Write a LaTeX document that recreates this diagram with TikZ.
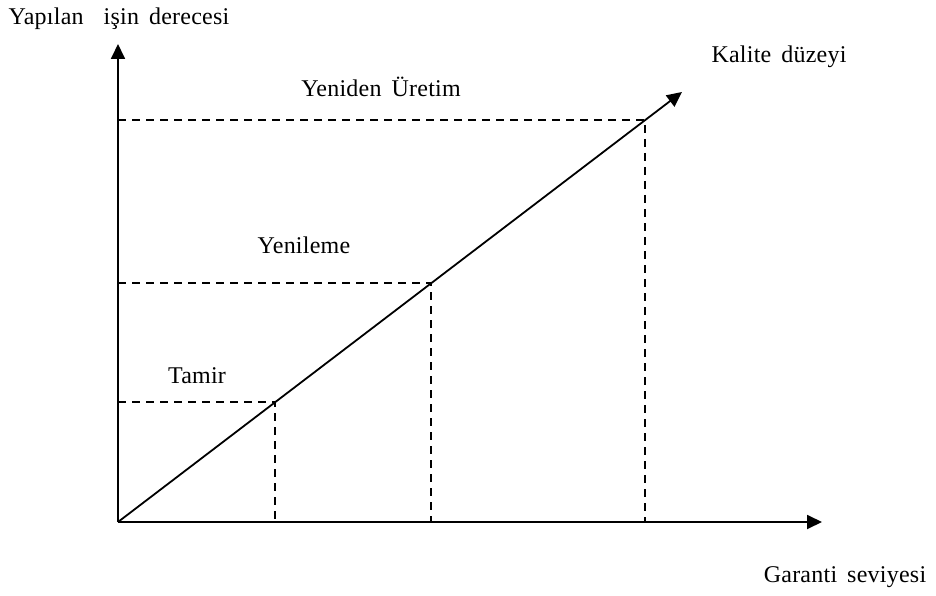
\documentclass[tikz,border=0pt]{standalone}
\usepackage{fontspec}
\setmainfont{Liberation Serif}[LetterSpace=1,WordSpace=1.6]
\usetikzlibrary{arrows.meta}
\begin{document}
\begin{tikzpicture}[x=1pt,y=-1pt,
  axis/.style={line width=1.8pt,-{Triangle[length=15pt,width=14pt]}},
  guide/.style={line width=1.8pt,dash pattern=on 8pt off 6pt},
  lbl/.style={font=\fontsize{24}{27}\selectfont,inner sep=0pt,anchor=base}]
\useasboundingbox (0,0) rectangle (936,596);
% axes and the quality line
\coordinate (O) at (118,522);
\coordinate (ytip) at (118,44);
\coordinate (xtip) at (822,522);
\coordinate (qtip) at (682,92);
% points on the quality line
\coordinate (pt) at (275,402);
\coordinate (py) at (431,283);
\coordinate (pu) at (645,120);
% guide lines
\draw[guide] (pt -| O) -- (pt) -- (pt |- O);
\draw[guide] (py -| O) -- (py) -- (py |- O);
\draw[guide] (pu -| O) -- (pu) -- (pu |- O);
\draw[axis] (O) -- (ytip);
\draw[axis] (O) -- (xtip);
\draw[axis] (O) -- (qtip);
% labels
\node[lbl] (ylab) at (119,25) {Yapılan\ \ işin derecesi};
\node[lbl] (qlab) at (779,63) {Kalite düzeyi};
\node[lbl] (ulab) at (381,97) {Yeniden Üretim};
\node[lbl] (ylab2) at (304,253) {Yenileme};
\node[lbl] (tlab) at (197,383) {Tamir};
\node[lbl] (xlab) at (845,582) {Garanti seviyesi};
\end{tikzpicture}
\end{document}
